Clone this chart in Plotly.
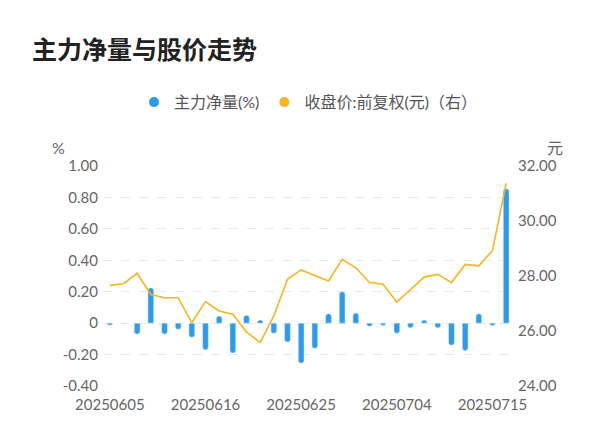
import plotly.graph_objects as go

dates = ["20250605","20250606","20250609","20250610","20250611","20250612","20250613",
         "20250616","20250617","20250618","20250619","20250620","20250623","20250624",
         "20250625","20250626","20250627","20250630","20250701","20250702","20250703",
         "20250704","20250707","20250708","20250709","20250710","20250711","20250714",
         "20250715","20250716"]
net_pct = [-0.013,-0.003,-0.07,0.225,-0.07,-0.04,-0.09,-0.17,0.045,-0.19,0.05,0.02,-0.065,-0.12,
           -0.255,-0.16,0.06,0.2,0.065,-0.02,-0.015,-0.065,-0.03,0.02,-0.03,-0.14,-0.175,0.06,
           -0.015,0.855]
price = [27.66,27.72,28.10,27.33,27.21,27.21,26.30,27.07,26.73,26.61,25.96,25.58,26.55,27.88,
         28.22,28.02,27.82,28.61,28.30,27.76,27.70,27.05,27.52,27.96,28.06,27.76,28.42,28.37,
         28.93,31.37]
tick_dates = ["20250605","20250616","20250625","20250704","20250715"]
left_ticks = [-0.4,-0.2,0,0.2,0.4,0.6,0.8,1.0]
left_labels = ["-0.40","-0.20","0","0.20","0.40","0.60","0.80","1.00"]
right_ticks = [24,26,28,30,32]
right_labels = ["24.00","26.00","28.00","30.00","32.00"]

font = "Lato, Noto Sans CJK SC"
BAR_C, LINE_C = "#2b9bef", "#f5b61e"
fig = go.Figure()
fig.add_trace(go.Bar(x=dates, y=net_pct, name="主力净量(%)", width=0.42, showlegend=False,
                     marker=dict(color=BAR_C, cornerradius=3)))
fig.add_trace(go.Scatter(x=dates, y=price, name="收盘价:前复权(元)（右）", yaxis="y2",
                         mode="lines", showlegend=False, line=dict(color=LINE_C, width=1.6)))
# legend entries with round markers
fig.add_trace(go.Scatter(x=[None], y=[None], name="主力净量(%)", mode="markers",
                         marker=dict(symbol="circle", size=10, color=BAR_C)))
fig.add_trace(go.Scatter(x=[None], y=[None], name="收盘价:前复权(元)（右）", mode="markers",
                         marker=dict(symbol="circle", size=10, color=LINE_C)))
T, B = 158, 68
fig.update_layout(
    width=600, height=446, plot_bgcolor="white", paper_bgcolor="white",
    margin=dict(l=95, r=95, t=T, b=B),
    font=dict(family=font, color="#666", size=14),
    title=dict(text="<b>主力净量与股价走势</b>", x=0.04, xanchor="left", y=0.905, yanchor="middle",
               font=dict(size=25, color="#222", family="Noto Sans CJK SC")),
    showlegend=True,
    legend=dict(orientation="h", x=0.5, xanchor="center", y=1.29, yanchor="middle",
                font=dict(size=16, color="#555"), itemwidth=30, tracegroupgap=0),
    bargap=0.5,
    xaxis=dict(type="category", tickmode="array", tickvals=tick_dates, ticktext=tick_dates,
               showgrid=False, ticks="", tickfont=dict(size=15, color="#666"), showline=False,
               ticklabelstandoff=8),
    yaxis=dict(range=[-0.4, 1.0], tickmode="array", tickvals=left_ticks, ticktext=left_labels,
               showgrid=True, gridcolor="#e8e8e8", griddash="dash", zeroline=False,
               tickfont=dict(size=15, color="#666"), ticklabelstandoff=4),
    yaxis2=dict(range=[24, 32], overlaying="y", side="right", tickmode="array",
                tickvals=right_ticks, ticktext=right_labels, showgrid=False, zeroline=False,
                tickfont=dict(size=15, color="#666"), ticklabelstandoff=4),
    annotations=[
        dict(text="%", x=42, y=128, showarrow=False, font=dict(size=16, color="#666")),
        dict(text="元", x=557, y=128, showarrow=False, font=dict(size=16, color="#666")),
    ],
)
pw, ph = 600 - 95 - 95, 446 - T - B
for a in fig.layout.annotations:
    a.xref, a.yref = "paper", "paper"
    a.x = (a.x - 95) / pw
    a.y = (446 - B - a.y) / ph
fig.write_html("out.html")
